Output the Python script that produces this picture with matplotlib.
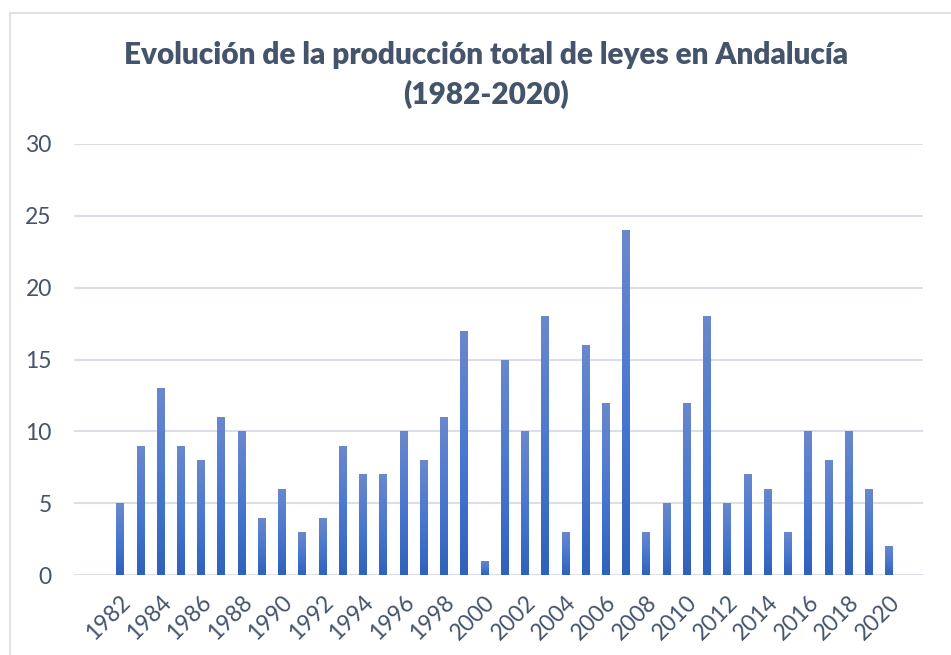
import matplotlib
matplotlib.use("Agg")
import matplotlib.pyplot as plt
import numpy as np
from matplotlib.colors import LinearSegmentedColormap
from matplotlib.patches import Rectangle

years = list(range(1982, 2021))
laws = [5, 9, 13, 9, 8, 11, 10, 4, 6, 3, 4, 9, 7, 7, 10, 8, 11, 17, 1, 15,
        10, 18, 3, 16, 12, 24, 3, 5, 12, 18, 5, 7, 6, 3, 10, 8, 10, 6, 2]
tick_years = years[::2]

title = "Evolución de la producción total de leyes en Andalucía\n(1982-2020)"
text_col = "#44546a"
grid_col = "#d9dee7"

plt.rcParams['font.family'] = ['Lato', 'DejaVu Sans']

fig = plt.figure(figsize=(9.51, 6.55), dpi=100)
ax = fig.add_axes([74/951, 1-575/655, (923-74)/951, (575-144)/655])

# chart frame (partially cropped in the original)
fig.patches.append(Rectangle((10/951, -0.1), 1.2, 1-13/655+0.1,
                             transform=fig.transFigure, fill=False,
                             edgecolor="#d9dce3", linewidth=1.2))

bars = ax.bar(years, laws, width=0.36, color="#4a78d0", zorder=2)

cmap = LinearSegmentedColormap.from_list("grad", ["#2f62bc", "#4a78d0", "#6a88cc"])
grad = np.linspace(0, 1, 256).reshape(-1, 1)
for b in bars:
    x0, y0 = b.get_x(), b.get_y()
    w, h = b.get_width(), b.get_height()
    im = ax.imshow(grad, cmap=cmap, aspect="auto", origin="lower",
                   extent=[x0, x0 + w, y0, y0 + h], zorder=3)
    im.set_clip_path(b)

ax.set_xlim(1979.73, 2021.68)
ax.set_ylim(0, 30)
ax.set_yticks(range(0, 31, 5))
ax.set_xticks(tick_years)
ax.set_xticklabels([str(y) for y in tick_years], rotation=45, ha="right",
                   rotation_mode="anchor")
ax.tick_params(axis="both", length=0, colors=text_col, labelsize=16.5)
ax.tick_params(axis="y", pad=16)
ax.tick_params(axis="x", pad=12)

ax.grid(axis="y", color=grid_col, linewidth=1.5, zorder=0)
ax.set_axisbelow(True)
for s in ax.spines.values():
    s.set_visible(False)

fig.text(486/951, 1-75/655, title, ha="center", va="center", fontsize=21.4,
         fontweight="heavy", color=text_col, linespacing=1.45)

fig.savefig("out.png", dpi=100)
